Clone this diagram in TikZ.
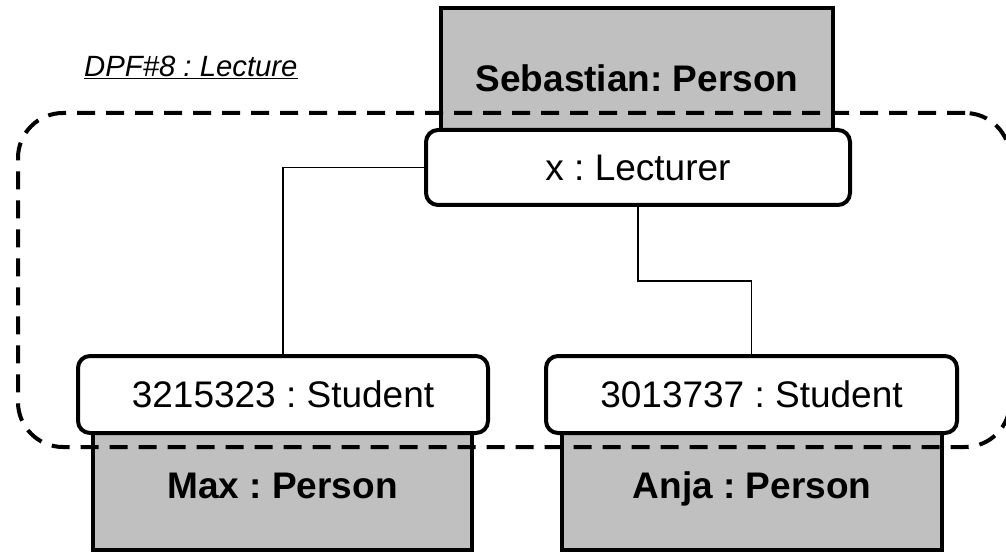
\documentclass[tikz,border=0pt]{standalone}
\usepackage{fontspec}
\setmainfont{Liberation Sans}
\frenchspacing
\definecolor{persongray}{HTML}{C0C0C0}
\tikzset{
  person/.style={draw=black, line width=4pt, fill=persongray, rectangle,
    inner sep=0pt, text height=26.5pt, text depth=0pt,
    font=\fontsize{37}{44}\selectfont\bfseries},
  rolebox/.style={draw=black, line width=4pt, fill=white, rectangle,
    rounded corners=12pt, inner sep=0pt, text height=26.5pt, text depth=0pt,
    font=\fontsize{37}{44}\selectfont},
  frame/.style={draw=black, line width=4pt, rectangle, rounded corners=45pt,
    dash pattern=on 18pt off 11pt, inner sep=0pt},
  link/.style={draw=black, line width=1.8pt}
}
\begin{document}
\begin{tikzpicture}[x=1pt, y=-1pt]
  \useasboundingbox (0,0) rectangle (1006,553);

  % persons (drawn first, partly hidden by the role boxes)
  \node[person, minimum width=392pt, minimum height=140pt] (seb) at (637,78) {Sebastian: Person};
  \node[person, minimum width=379pt, minimum height=130pt] (max) at (282.5,485) {Max : Person};
  \node[person, minimum width=380pt, minimum height=130pt] (anja) at (752,485) {Anja : Person};

  % collaboration frame
  \node[frame, minimum width=992pt, minimum height=334pt] (dpf) at (514,280) {};
  \node[anchor=base west, inner sep=0pt, font=\fontsize{29.3}{35}\selectfont\itshape]
    (dpflabel) at (84,77) {\underline{DPF\#8 : Lecture}};

  % roles
  \node[rolebox, minimum width=424pt, minimum height=75pt] (lect) at (638,167.5) {x : Lecturer};
  \node[rolebox, minimum width=410pt, minimum height=77pt] (stu1) at (283,394.5) {3215323 : Student};
  \node[rolebox, minimum width=411pt, minimum height=77pt] (stu2) at (751.5,394.5) {3013737 : Student};

  % connectors
  \draw[link] (lect.west) -| (stu1.north);
  \draw[link] (lect.south) -- ++(0,74) -| (stu2.north);
\end{tikzpicture}
\end{document}
